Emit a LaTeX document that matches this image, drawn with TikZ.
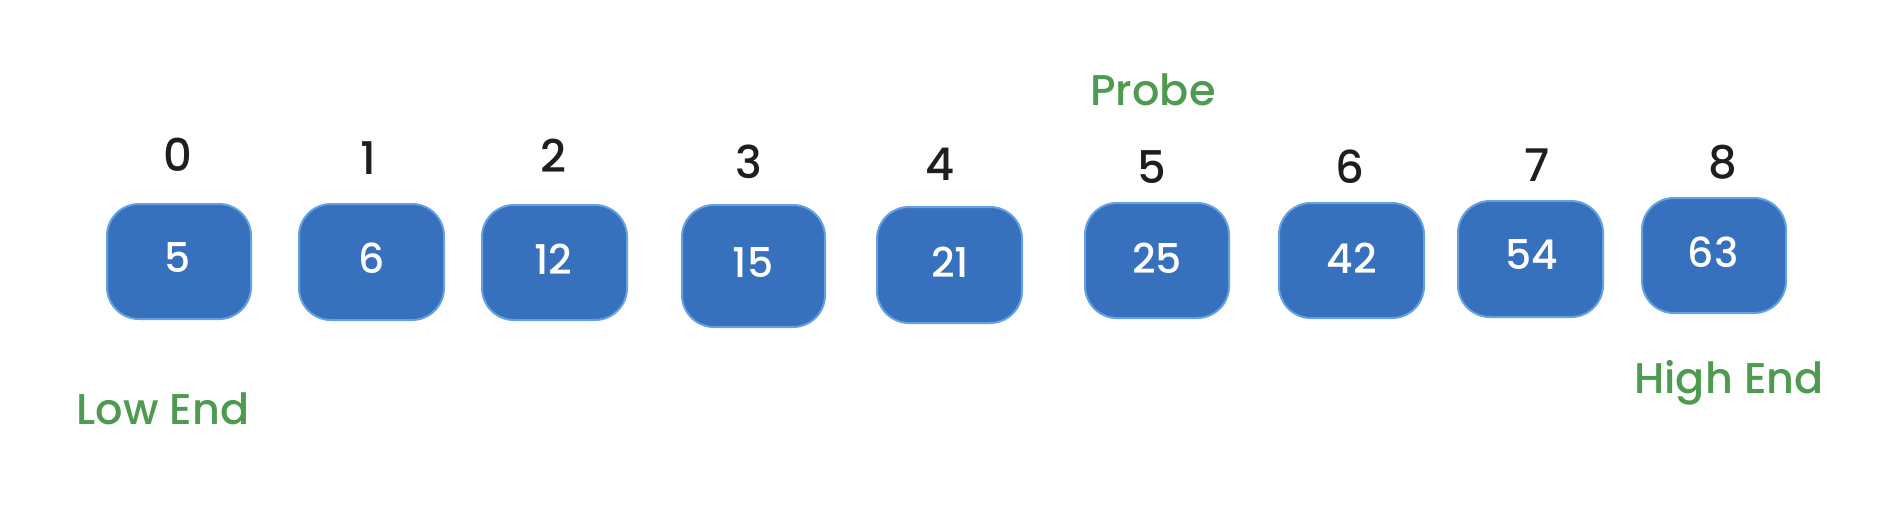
\documentclass[tikz,border=0pt]{standalone}
\usepackage{fontspec}
\setmainfont{Poppins}[UprightFont=* Medium, BoldFont=* SemiBold]
\definecolor{boxfill}{RGB}{55,112,189}
\definecolor{boxline}{RGB}{100,160,228}
\definecolor{hlgreen}{RGB}{78,154,80}
\definecolor{inkblack}{RGB}{30,30,30}
\tikzset{
  cell/.style={draw=boxline, fill=boxfill, line width=2pt, rounded corners=32pt, inner sep=0pt},
  val/.style={text=white, font=\fontsize{41}{48}\selectfont, inner sep=0pt},
  idx/.style={text=inkblack, font=\fontsize{45}{52}\selectfont, inner sep=0pt},
  note/.style={text=hlgreen, font=\fontsize{43}{50}\selectfont, inner sep=0pt}
}
\begin{document}
\begin{tikzpicture}[x=1pt,y=-1pt]
\useasboundingbox[fill=white] (0,0) rectangle (1886,514);
% boxes
\draw[cell] (107,204) rectangle (251,319);
\draw[cell] (299,204) rectangle (444,320);
\draw[cell] (482,205) rectangle (627,320);
\draw[cell] (682,205) rectangle (825,327);
\draw[cell] (877,207) rectangle (1022,323);
\draw[cell] (1085,203) rectangle (1229,318);
\draw[cell] (1279,203) rectangle (1424,318);
\draw[cell] (1458,201) rectangle (1603,317);
\draw[cell] (1642,198) rectangle (1786,313);
% values
\node[val] (v0) at (178,258) {5};
\node[val] (v1) at (372,258) {6};
\node[val] (v2) at (553,259) {12};
\node[val] (v3) at (753,263) {15};
\node[val] (v4) at (950,262) {21};
\node[val] (v5) at (1157,258) {25};
\node[val] (v6) at (1352,258) {42};
\node[val] (v7) at (1532,255) {54};
\node[val] (v8) at (1713,252) {63};
% indices
\node[idx] (i0) at (178,155) {0};
\node[idx] (i1) at (368,158) {1};
\node[idx] (i2) at (553,156) {2};
\node[idx] (i3) at (749,162) {3};
\node[idx] (i4) at (940,164) {4};
\node[idx] (i5) at (1152,167) {5};
\node[idx] (i6) at (1350,167) {6};
\node[idx] (i7) at (1537,165) {7};
\node[idx] (i8) at (1723,162) {8};
% notes
\node[note] (probe) at (1153,90) {Probe};
\node[note] (low) at (163,409) {Low End};
\node[note] (high) at (1729,383) {High End};
\end{tikzpicture}
\end{document}
